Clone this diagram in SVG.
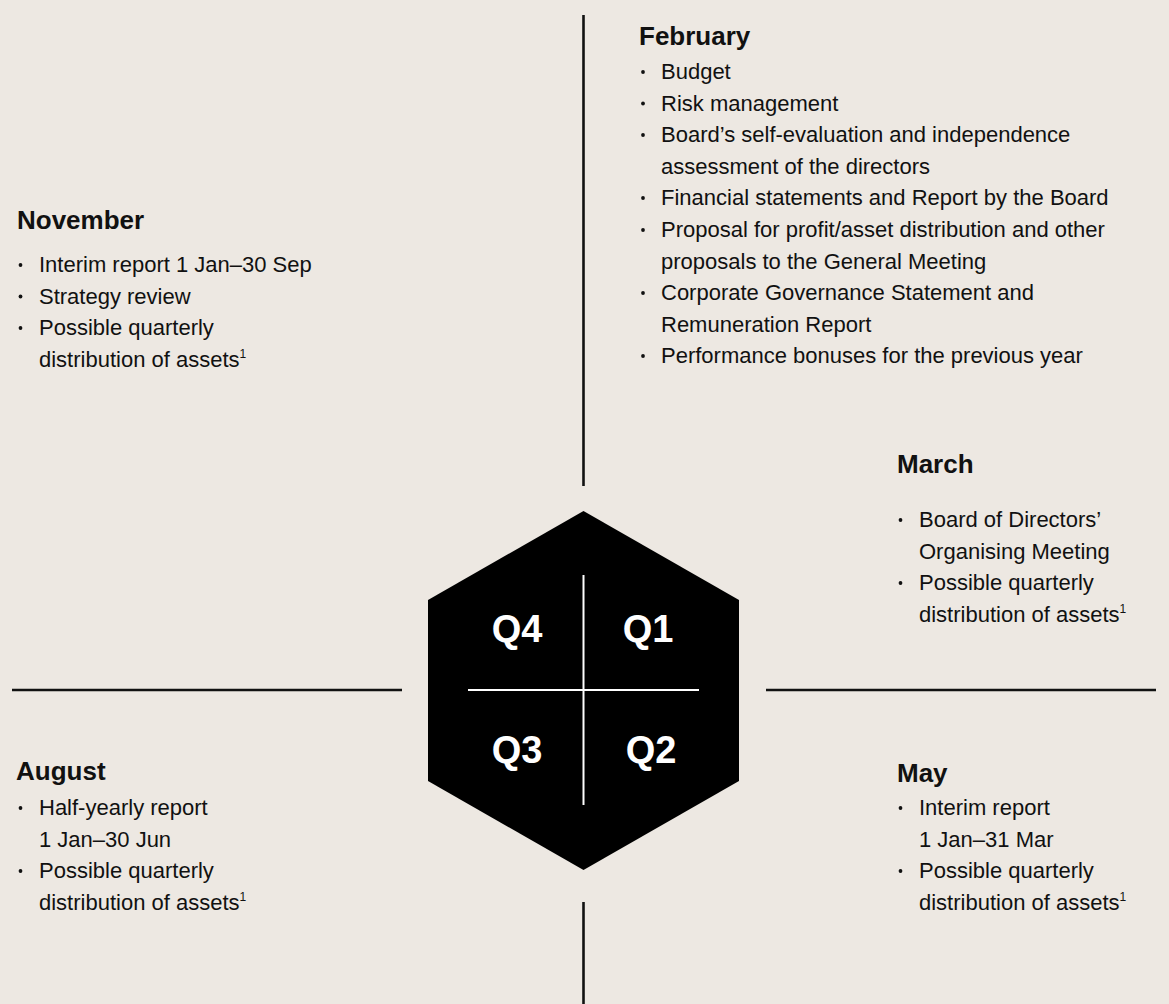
<svg xmlns="http://www.w3.org/2000/svg" width="1169" height="1004" viewBox="0 0 1169 1004">
<style>
.bg{fill:#EDE8E2}
.rule{stroke:#111;stroke-width:2.6;fill:none}
.h{font-family:"Liberation Sans",Arial,sans-serif;font-size:26px;font-weight:bold;fill:#111}
.t{font-family:"Liberation Sans",Arial,sans-serif;font-size:22px;fill:#111}
.sup{font-size:12px}
.b{fill:#111}
.q{font-family:"Liberation Sans",Arial,sans-serif;font-size:38px;font-weight:bold;fill:#fff;text-anchor:middle}
.cross{stroke:#fff;stroke-width:2;fill:none}
</style>
<rect class="bg" x="0" y="0" width="1169" height="1004"/>
<g id="connectors">
<line class="rule" x1="583.5" y1="15" x2="583.5" y2="486"/>
<line class="rule" x1="583.5" y1="902" x2="583.5" y2="1004"/>
<line class="rule" x1="12" y1="690" x2="402" y2="690"/>
<line class="rule" x1="766" y1="690" x2="1156" y2="690"/>
</g>
<g id="hexagon">
<polygon points="583.5,511 739,600 739,781 583.5,870 428,781 428,600" fill="#000"/>
<line class="cross" x1="583.5" y1="575" x2="583.5" y2="805"/>
<line class="cross" x1="468" y1="690" x2="699" y2="690"/>
<text class="q" x="517" y="642">Q4</text>
<text class="q" x="648" y="642">Q1</text>
<text class="q" x="517" y="763">Q3</text>
<text class="q" x="651" y="763">Q2</text>
</g>
<g id="february">
<text class="h" x="639" y="45">February</text>
<circle class="b" cx="643" cy="72" r="1.9"/>
<text class="t" x="661" y="79">Budget</text>
<circle class="b" cx="643" cy="103.5" r="1.9"/>
<text class="t" x="661" y="110.5">Risk management</text>
<circle class="b" cx="643" cy="135" r="1.9"/>
<text class="t" x="661" y="142">Board’s self-evaluation and independence</text>
<text class="t" x="661" y="173.5">assessment of the directors</text>
<circle class="b" cx="643" cy="198" r="1.9"/>
<text class="t" x="661" y="205">Financial statements and Report by the Board</text>
<circle class="b" cx="643" cy="230" r="1.9"/>
<text class="t" x="661" y="237">Proposal for profit/asset distribution and other</text>
<text class="t" x="661" y="268.5">proposals to the General Meeting</text>
<circle class="b" cx="643" cy="293" r="1.9"/>
<text class="t" x="661" y="300">Corporate Governance Statement and</text>
<text class="t" x="661" y="331.5">Remuneration Report</text>
<circle class="b" cx="643" cy="356" r="1.9"/>
<text class="t" x="661" y="363">Performance bonuses for the previous year</text>
</g>
<g id="november">
<text class="h" x="17" y="229">November</text>
<circle class="b" cx="20.5" cy="265" r="1.9"/>
<text class="t" x="39" y="272">Interim report 1 Jan–30 Sep</text>
<circle class="b" cx="20.5" cy="296.5" r="1.9"/>
<text class="t" x="39" y="303.5">Strategy review</text>
<circle class="b" cx="20.5" cy="328" r="1.9"/>
<text class="t" x="39" y="335">Possible quarterly</text>
<text class="t" x="39" y="366.5">distribution of assets<tspan class="sup" dy="-9">1</tspan></text>
</g>
<g id="march">
<text class="h" x="897" y="473">March</text>
<circle class="b" cx="900.5" cy="520" r="1.9"/>
<text class="t" x="919" y="527">Board of Directors’</text>
<text class="t" x="919" y="558.5">Organising Meeting</text>
<circle class="b" cx="900.5" cy="583" r="1.9"/>
<text class="t" x="919" y="590">Possible quarterly</text>
<text class="t" x="919" y="621.5">distribution of assets<tspan class="sup" dy="-9">1</tspan></text>
</g>
<g id="may">
<text class="h" x="897" y="782">May</text>
<circle class="b" cx="900.5" cy="808" r="1.9"/>
<text class="t" x="919" y="815">Interim report</text>
<text class="t" x="919" y="846.5">1 Jan–31 Mar</text>
<circle class="b" cx="900.5" cy="871" r="1.9"/>
<text class="t" x="919" y="878">Possible quarterly</text>
<text class="t" x="919" y="909.5">distribution of assets<tspan class="sup" dy="-9">1</tspan></text>
</g>
<g id="august">
<text class="h" x="16" y="780">August</text>
<circle class="b" cx="20.5" cy="808" r="1.9"/>
<text class="t" x="39" y="815">Half-yearly report</text>
<text class="t" x="39" y="846.5">1 Jan–30 Jun</text>
<circle class="b" cx="20.5" cy="871" r="1.9"/>
<text class="t" x="39" y="878">Possible quarterly</text>
<text class="t" x="39" y="909.5">distribution of assets<tspan class="sup" dy="-9">1</tspan></text>
</g>
</svg>
